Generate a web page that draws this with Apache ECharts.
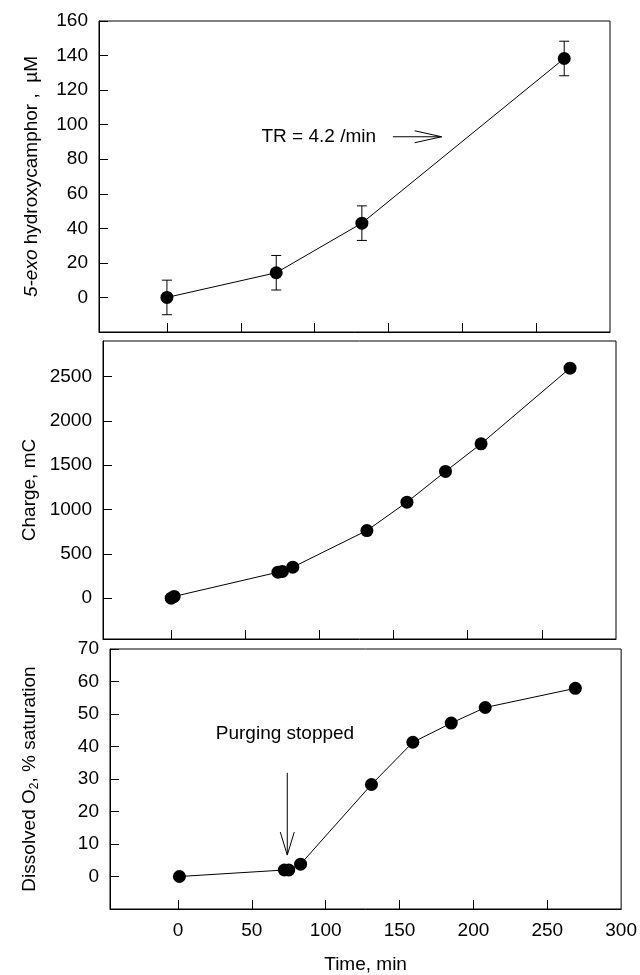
<!DOCTYPE html>
<html><head><meta charset="utf-8">
<script src="https://cdn.jsdelivr.net/npm/echarts@6/dist/echarts.min.js"></script>
<style>html,body{margin:0;padding:0;background:#fff}#c{width:640px;height:975px}</style>
</head><body><div id="c"></div>
<script>
// ---- data ----
const xTicks = [0, 50, 100, 150, 200, 250, 300];
const hydroxyTime = [0, 74, 132, 269];
const hydroxyConc = [0, 14.3, 43, 138.3];
const hydroxyErr = [10, 10, 10, 10];
const hydroxyTicks = [0, 20, 40, 60, 80, 100, 120, 140, 160];
const chargeTime = [0, 2, 72, 75, 82, 132, 159, 185, 209, 269];
const chargeVal = [0, 20, 293, 301, 350, 763, 1083, 1429, 1741, 2594];
const chargeTicks = [0, 500, 1000, 1500, 2000, 2500];
const o2Time = [1, 72, 75, 83, 131, 159, 185, 208, 269];
const o2Val = [0, 2, 2, 3.8, 28.3, 41.3, 47.2, 52, 57.9];
const o2Ticks = [0, 10, 20, 30, 40, 50, 60, 70];
// annotations (data coordinates)
const trText = 'TR = 4.2 /min';
const trTextPos = [64, 92.8];
const trArrow = [153, 93, 186, 93];
const purgeText = 'Purging stopped';
const purgeTextPos = [25.6, 43.8];
const purgeArrow = [74, 31.9, 74, 6.6];

const FONT = "'Liberation Sans', Arial, Helvetica, sans-serif";
const FS = 19;
const BLACK = '#000';

const chart = echarts.init(document.getElementById('c'), null, {renderer: 'canvas'});

const grids = [
  {left: 99, top: 21, width: 511, height: 311},
  {left: 103, top: 341, width: 513, height: 298},
  {left: 110, top: 649, width: 515, height: 260}
].map(g => Object.assign(g, {show: true, borderColor: BLACK, borderWidth: 1, backgroundColor: 'transparent'}));

const plain = v => String(v);

function xAxis(i, showLabel) {
  return {
    type: 'value', gridIndex: i, min: -46, max: 300,
    axisLine: {show: true, onZero: false, lineStyle: {color: BLACK, width: 1}},
    axisTick: {show: true, inside: true, length: 9, customValues: [0, 50, 100, 150, 200, 250], lineStyle: {color: BLACK}},
    axisLabel: {show: showLabel, customValues: xTicks, formatter: plain, margin: 12, color: BLACK, fontSize: FS, fontFamily: FONT},
    splitLine: {show: false},
    name: showLabel ? 'Time, min' : '',
    nameLocation: 'middle', nameGap: 46,
    nameTextStyle: {color: BLACK, fontSize: FS, fontFamily: FONT}
  };
}
function yAxis(i, min, max, ticks, name, gap, rich) {
  return {
    type: 'value', gridIndex: i, min: min, max: max,
    axisLine: {show: true, onZero: false, lineStyle: {color: BLACK, width: 1}},
    axisTick: {show: true, inside: true, length: 9, customValues: ticks, lineStyle: {color: BLACK}},
    axisLabel: {show: true, customValues: ticks, formatter: plain, margin: 11, color: BLACK, fontSize: FS, fontFamily: FONT},
    splitLine: {show: false},
    name: name, nameLocation: 'middle', nameRotate: 90, nameGap: gap,
    nameTextStyle: {color: BLACK, fontSize: FS, fontFamily: FONT, rich: rich}
  };
}

function lineSeries(i, xs, ys) {
  return {
    type: 'line', xAxisIndex: i, yAxisIndex: i,
    data: xs.map((t, k) => [t, ys[k]]),
    symbol: 'circle', symbolSize: 13, showSymbol: true,
    itemStyle: {color: BLACK}, lineStyle: {color: BLACK, width: 1},
    z: 5, animation: false
  };
}

function arrowSeries(i, seg, headLen, headHalf) {
  return {
    type: 'custom', xAxisIndex: i, yAxisIndex: i, data: [seg], z: 4, animation: false, silent: true,
    renderItem: function (params, api) {
      const a = api.coord([api.value(0), api.value(1)]);
      const b = api.coord([api.value(2), api.value(3)]);
      const dx = b[0] - a[0], dy = b[1] - a[1];
      const len = Math.sqrt(dx * dx + dy * dy);
      const ux = dx / len, uy = dy / len, px = -uy, py = ux;
      const bx = b[0] - ux * headLen, by = b[1] - uy * headLen;
      const st = {stroke: BLACK, lineWidth: 1, fill: null};
      return {type: 'group', children: [
        {type: 'line', shape: {x1: a[0], y1: a[1], x2: b[0], y2: b[1]}, style: st},
        {type: 'polyline', shape: {points: [[bx + px * headHalf, by + py * headHalf], b, [bx - px * headHalf, by - py * headHalf]]}, style: st}
      ]};
    }
  };
}
function textSeries(i, pos, txt) {
  return {
    type: 'custom', xAxisIndex: i, yAxisIndex: i, data: [pos], z: 4, animation: false, silent: true,
    renderItem: function (params, api) {
      const p = api.coord([api.value(0), api.value(1)]);
      return {type: 'text', x: p[0], y: p[1], style: {text: txt, fill: BLACK, fontSize: FS, fontFamily: FONT, align: 'left', verticalAlign: 'middle'}};
    }
  };
}

const errorSeries = {
  type: 'custom', xAxisIndex: 0, yAxisIndex: 0, z: 3, animation: false, silent: true,
  data: hydroxyTime.map((t, k) => [t, hydroxyConc[k], hydroxyErr[k]]),
  renderItem: function (params, api) {
    const x = api.value(0), y = api.value(1), e = api.value(2);
    const t = api.coord([x, y + e]), b = api.coord([x, y - e]);
    const w = 5;
    const st = {stroke: BLACK, lineWidth: 1};
    return {type: 'group', children: [
      {type: 'line', shape: {x1: t[0], y1: t[1], x2: b[0], y2: b[1]}, style: st},
      {type: 'line', shape: {x1: t[0] - w, y1: t[1], x2: t[0] + w, y2: t[1]}, style: st},
      {type: 'line', shape: {x1: b[0] - w, y1: b[1], x2: b[0] + w, y2: b[1]}, style: st}
    ]};
  }
};

const option = {
  backgroundColor: '#fff',
  animation: false,
  grid: grids,
  xAxis: [xAxis(0, false), xAxis(1, false), xAxis(2, true)],
  yAxis: [
    yAxis(0, -20, 160, hydroxyTicks, '{i|5-exo}{n| hydroxycamphor ,  \u00b5M}', 58,
      {i: {fontStyle: 'italic', fontSize: FS, fontFamily: FONT, color: BLACK}, n: {fontSize: FS, fontFamily: FONT, color: BLACK}}),
    yAxis(1, -460, 2900, chargeTicks, 'Charge, mC', 62, undefined),
    yAxis(2, -10, 70, o2Ticks, '{n|Dissolved O}{s|2}{n|, % saturation}', 69,
      {n: {fontSize: FS, fontFamily: FONT, color: BLACK}, s: {fontSize: 12, fontFamily: FONT, color: BLACK, padding: [10, 0, 0, 0]}})
  ],
  series: [
    errorSeries,
    lineSeries(0, hydroxyTime, hydroxyConc),
    lineSeries(1, chargeTime, chargeVal),
    lineSeries(2, o2Time, o2Val),
    textSeries(0, trTextPos, trText),
    arrowSeries(0, trArrow, 27, 6),
    textSeries(2, purgeTextPos, purgeText),
    arrowSeries(2, purgeArrow, 23, 7)
  ]
};
chart.setOption(option);
</script>
</body></html>
